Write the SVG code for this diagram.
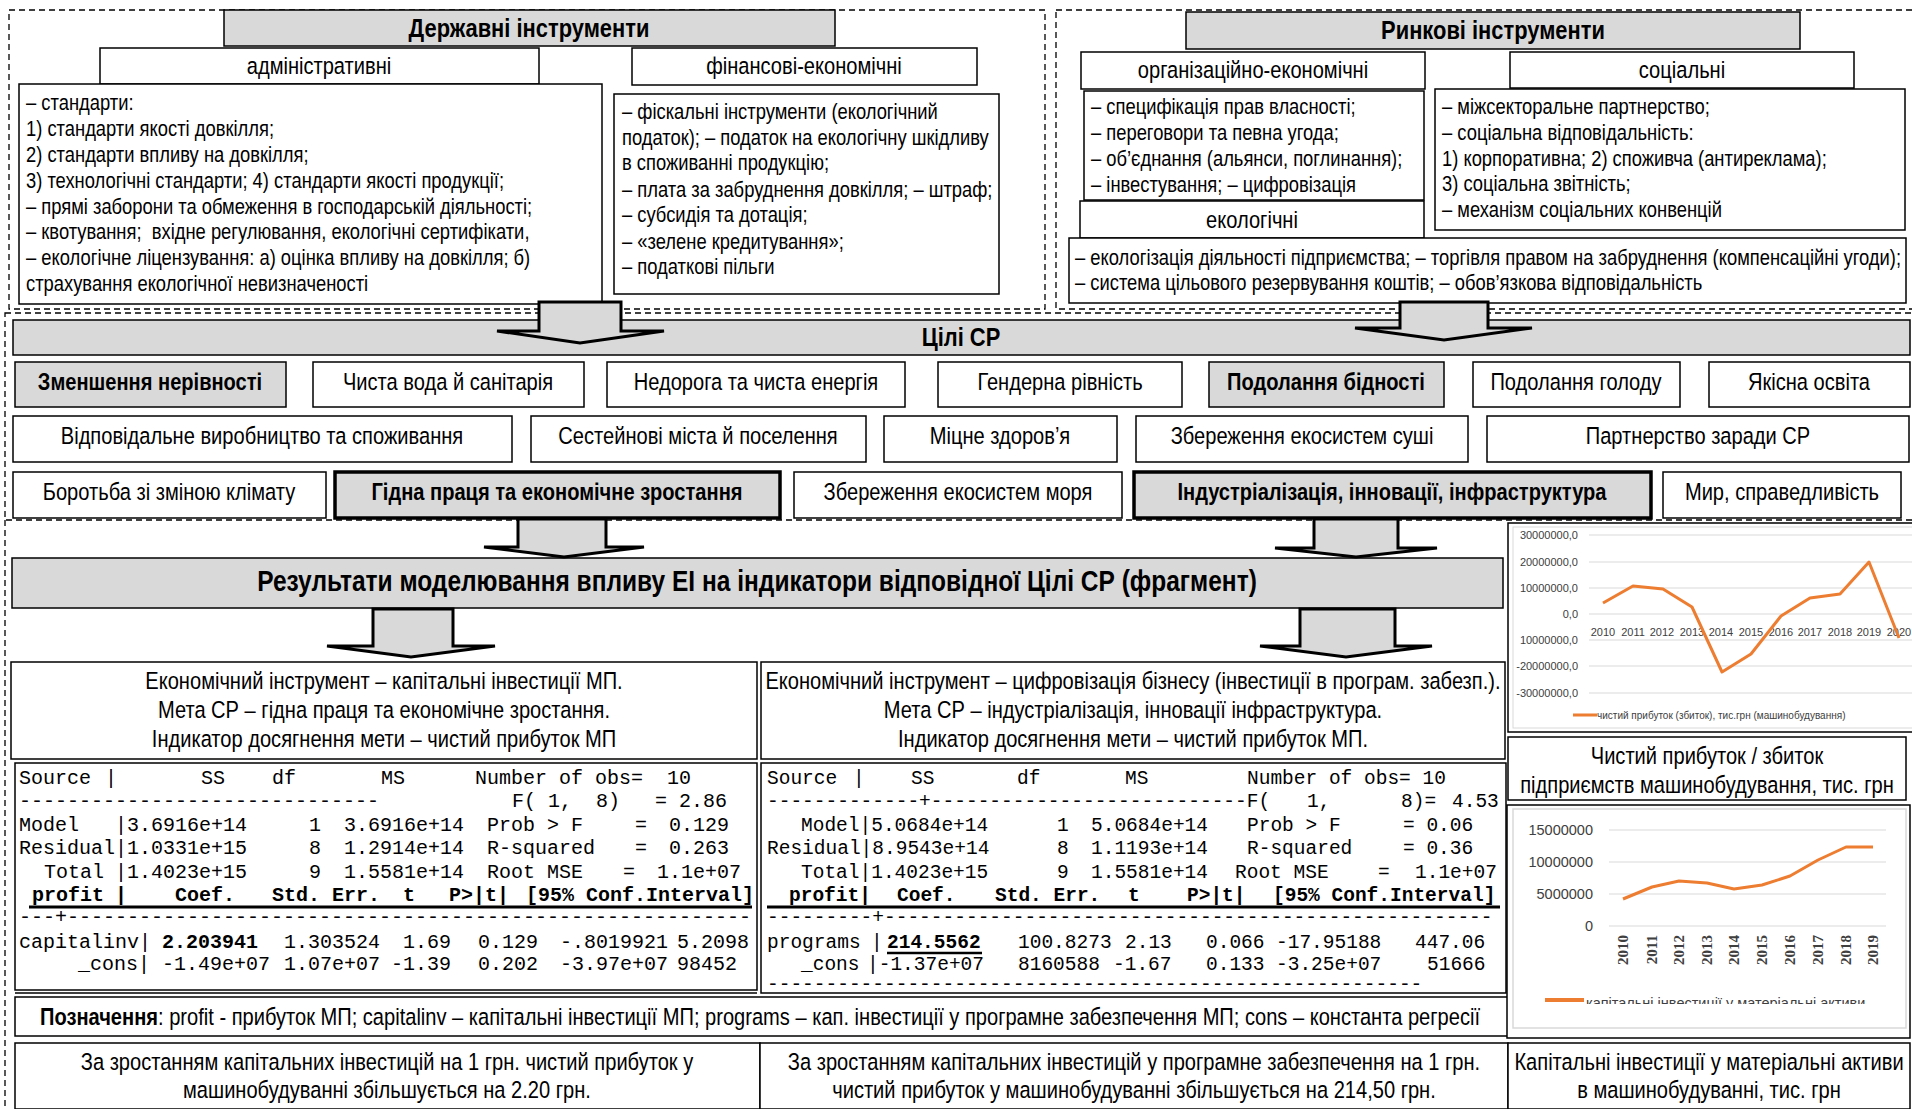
<svg xmlns="http://www.w3.org/2000/svg" width="1912" height="1109" viewBox="0 0 1912 1109">
<defs>
<style>
.box{fill:#fff;stroke:#000;stroke-width:1.5}
.gbox{fill:#d9d9d9;stroke:#000;stroke-width:1.5}
.tbox{fill:#d9d9d9;stroke:#000;stroke-width:3.5}
.dash{fill:none;stroke:#000;stroke-width:1.3;stroke-dasharray:6 4}
.t{font-family:"Liberation Sans",Arial,sans-serif;fill:#000}
.b21{font-size:22.4px}
.hd{font-size:26.7px;font-weight:bold;text-anchor:middle}
.sub{font-size:24.5px;text-anchor:middle}
.goal{font-size:24.5px;text-anchor:middle}
.goalb{font-size:24.5px;font-weight:bold;text-anchor:middle}
.c23{font-size:24.5px;text-anchor:middle}
.mono{font-family:"Liberation Mono","Courier New",monospace;font-size:20px;fill:#000}
.monor{font-family:"Liberation Mono","Courier New",monospace;font-size:19.5px;fill:#000}
.bold{font-weight:bold}
.arrow{fill:#d9d9d9;stroke:#000;stroke-width:3;stroke-linejoin:miter}
.grid{stroke:#d9d9d9;stroke-width:1.2}
.ax{font-family:"Liberation Sans",Arial,sans-serif;fill:#404040}
.ser{fill:none;stroke:#ed7d31;stroke-width:3;stroke-linejoin:round}
</style>
<clipPath id="legclip"><rect x="1500" y="980" width="412" height="24"/></clipPath>
</defs>
<rect x="0" y="0" width="1912" height="1109" fill="#fff"/>

<g id="frames">
<rect class="dash" x="9" y="10" width="1036" height="299"/>
<rect class="dash" x="1056" y="10" width="880" height="299"/>
<rect class="dash" x="5" y="313" width="1930" height="207"/>
<line class="dash" x1="5" y1="520" x2="5" y2="1109"/>
</g>

<g id="state-instruments">
<rect class="gbox" x="224" y="10" width="611" height="36"/>
<text class="t hd" transform="translate(529 37) scale(.82 1)">Державні інструменти</text>
</g>
<g id="admin-head">
<rect class="box" x="100" y="48" width="439" height="36"/>
<text class="t sub" transform="translate(319 74) scale(.82 1)">адміністративні</text>
</g>
<g id="admin-body">
<rect class="box" x="19" y="84" width="583" height="220"/>
<text class="t b21" transform="translate(26 110) scale(.82 1)">– стандарти:</text>
<text class="t b21" transform="translate(26 136) scale(.82 1)">1) стандарти якості довкілля;</text>
<text class="t b21" transform="translate(26 162) scale(.82 1)">2) стандарти впливу на довкілля;</text>
<text class="t b21" transform="translate(26 188) scale(.82 1)">3) технологічні стандарти; 4) стандарти якості продукції;</text>
<text class="t b21" transform="translate(26 214) scale(.82 1)">– прямі заборони та обмеження в господарській діяльності;</text>
<text class="t b21" transform="translate(26 239) scale(.82 1)" xml:space="preserve">– квотування;  вхідне регулювання, екологічні сертифікати,</text>
<text class="t b21" transform="translate(26 265) scale(.82 1)">– екологічне ліцензування: а) оцінка впливу на довкілля; б)</text>
<text class="t b21" transform="translate(26 291) scale(.82 1)">страхування екологічної невизначеності</text>
</g>
<g id="fin-head">
<rect class="box" x="632" y="48" width="345" height="37"/>
<text class="t sub" font-size="25.2" transform="translate(804 74) scale(.82 1)">фінансові-економічні</text>
</g>
<g id="fin-body">
<rect class="box" x="614" y="94" width="385" height="200"/>
<text class="t b21" transform="translate(622 119) scale(.82 1)">– фіскальні інструменти (екологічний</text>
<text class="t b21" transform="translate(622 145) scale(.82 1)">податок); – податок на екологічну шкідливу</text>
<text class="t b21" transform="translate(622 170) scale(.82 1)">в споживанні продукцію;</text>
<text class="t b21" transform="translate(622 197) scale(.82 1)">– плата за забруднення довкілля; – штраф;</text>
<text class="t b21" transform="translate(622 222) scale(.82 1)">– субсидія та дотація;</text>
<text class="t b21" transform="translate(622 249) scale(.82 1)">– «зелене кредитування»;</text>
<text class="t b21" transform="translate(622 274) scale(.82 1)">– податкові пільги</text>
</g>

<g id="market-instruments">
<rect class="gbox" x="1186" y="12" width="614" height="37"/>
<text class="t hd" transform="translate(1493 39) scale(.82 1)">Ринкові інструменти</text>
</g>
<g id="org-head">
<rect class="box" x="1081" y="52" width="344" height="37"/>
<text class="t sub" transform="translate(1253 78) scale(.82 1)">організаційно-економічні</text>
</g>
<g id="org-body">
<rect class="box" x="1084" y="91" width="340" height="109"/>
<text class="t b21" transform="translate(1091 114) scale(.82 1)">– специфікація прав власності;</text>
<text class="t b21" transform="translate(1091 140) scale(.82 1)">– переговори та певна угода;</text>
<text class="t b21" transform="translate(1091 166) scale(.82 1)">– об’єднання (альянси, поглинання);</text>
<text class="t b21" transform="translate(1091 192) scale(.82 1)">– інвестування; – цифровізація</text>
</g>
<g id="soc-head">
<rect class="box" x="1510" y="52" width="344" height="36"/>
<text class="t sub" transform="translate(1682 78) scale(.82 1)">соціальні</text>
</g>
<g id="soc-body">
<rect class="box" x="1435" y="89" width="470" height="141"/>
<text class="t b21" transform="translate(1442 114) scale(.82 1)">– міжсекторальне партнерство;</text>
<text class="t b21" transform="translate(1442 140) scale(.82 1)">– соціальна відповідальність:</text>
<text class="t b21" transform="translate(1442 166) scale(.82 1)">1) корпоративна; 2) споживча (антиреклама);</text>
<text class="t b21" transform="translate(1442 191) scale(.82 1)">3) соціальна звітність;</text>
<text class="t b21" transform="translate(1442 217) scale(.82 1)">– механізм соціальних конвенцій</text>
</g>
<g id="eco-head">
<rect class="box" x="1080" y="201" width="344" height="37"/>
<text class="t sub" transform="translate(1252 228) scale(.82 1)">екологічні</text>
</g>
<g id="eco-body">
<rect class="box" x="1069" y="238" width="837" height="65"/>
<text class="t b21" transform="translate(1075 265) scale(.82 1)">– екологізація діяльності підприємства; – торгівля правом на забруднення (компенсаційні угоди);</text>
<text class="t b21" transform="translate(1075 290) scale(.82 1)">– система цільового резервування коштів; – обов’язкова відповідальність</text>
</g>

<g id="sdg-bar">
<rect class="gbox" x="13" y="320" width="1897" height="35"/>
<text class="t hd" transform="translate(961 346) scale(.82 1)">Цілі СР</text>
</g>

<g id="g-inequality"><rect class="gbox" x="15" y="362" width="271" height="45"/><text class="t goalb" transform="translate(150 390) scale(.82 1)">Зменшення нерівності</text></g>
<g id="g-water"><rect class="box" x="313" y="362" width="271" height="45"/><text class="t goal" transform="translate(448 390) scale(.82 1)">Чиста вода й санітарія</text></g>
<g id="g-energy"><rect class="box" x="607" y="362" width="298" height="45"/><text class="t goal" transform="translate(756 390) scale(.82 1)">Недорога та чиста енергія</text></g>
<g id="g-gender"><rect class="box" x="938" y="362" width="244" height="45"/><text class="t goal" transform="translate(1060 390) scale(.82 1)">Гендерна рівність</text></g>
<g id="g-poverty"><rect class="gbox" x="1209" y="362" width="235" height="45"/><text class="t goalb" transform="translate(1326 390) scale(.82 1)">Подолання бідності</text></g>
<g id="g-hunger"><rect class="box" x="1473" y="362" width="207" height="45"/><text class="t goal" transform="translate(1576 390) scale(.82 1)">Подолання голоду</text></g>
<g id="g-education"><rect class="box" x="1709" y="362" width="201" height="45"/><text class="t goal" transform="translate(1809 390) scale(.82 1)">Якісна освіта</text></g>

<g id="g-consumption"><rect class="box" x="13" y="416" width="499" height="46"/><text class="t goal" transform="translate(262 444) scale(.82 1)">Відповідальне виробництво та споживання</text></g>
<g id="g-cities"><rect class="box" x="531" y="416" width="335" height="46"/><text class="t goal" transform="translate(698 444) scale(.82 1)">Сестейнові міста й поселення</text></g>
<g id="g-health"><rect class="box" x="884" y="416" width="233" height="46"/><text class="t goal" transform="translate(1000 444) scale(.82 1)">Міцне здоров’я</text></g>
<g id="g-land"><rect class="box" x="1136" y="416" width="332" height="46"/><text class="t goal" transform="translate(1302 444) scale(.82 1)">Збереження екосистем суші</text></g>
<g id="g-partnership"><rect class="box" x="1487" y="416" width="422" height="46"/><text class="t goal" transform="translate(1698 444) scale(.82 1)">Партнерство заради СР</text></g>

<g id="g-climate"><rect class="box" x="13" y="472" width="313" height="46"/><text class="t goal" transform="translate(169 500) scale(.82 1)">Боротьба зі зміною клімату</text></g>
<g id="g-work"><rect class="tbox" x="335" y="472" width="445" height="46"/><text class="t goalb" font-size="23.5" transform="translate(557 500) scale(.82 1)">Гідна праця та економічне зростання</text></g>
<g id="g-sea"><rect class="box" x="794" y="472" width="328" height="46"/><text class="t goal" transform="translate(958 500) scale(.82 1)">Збереження екосистем моря</text></g>
<g id="g-industry"><rect class="tbox" x="1134" y="472" width="517" height="46"/><text class="t goalb" transform="translate(1392 500) scale(.82 1)">Індустріалізація, інновації, інфраструктура</text></g>
<g id="g-peace"><rect class="box" x="1663" y="472" width="238" height="46"/><text class="t goal" transform="translate(1782 500) scale(.82 1)">Мир, справедливість</text></g>

<g id="results-bar">
<rect class="gbox" x="12" y="558" width="1491" height="50"/>
<text class="t" font-size="29.9" font-weight="bold" text-anchor="middle" transform="translate(757 591) scale(.82 1)">Результати моделювання впливу ЕІ на індикатори відповідної Цілі СР (фрагмент)</text>
</g>

<g id="case-left">
<rect class="box" x="11" y="662" width="746" height="97"/>
<text class="t c23" transform="translate(384 689) scale(.82 1)">Економічний інструмент – капітальні інвестиції МП.</text>
<text class="t c23" transform="translate(384 718) scale(.82 1)">Мета СР – гідна праця та економічне зростання.</text>
<text class="t c23" transform="translate(384 747) scale(.82 1)">Індикатор досягнення мети – чистий прибуток МП</text>
</g>
<g id="case-right">
<rect class="box" x="761" y="662" width="744" height="97"/>
<text class="t c23" transform="translate(1133 689) scale(.82 1)">Економічний інструмент – цифровізація бізнесу (інвестиції в програм. забезп.).</text>
<text class="t c23" transform="translate(1133 718) scale(.82 1)">Мета СР – індустріалізація, інновації інфраструктура.</text>
<text class="t c23" transform="translate(1133 747) scale(.82 1)">Індикатор досягнення мети – чистий прибуток МП.</text>
</g>

<g id="table-left">
<rect class="box" x="15" y="763" width="742" height="227"/>
<line x1="15" y1="993" x2="757" y2="993" stroke="#000" stroke-width="1.5"/>
<text class="mono" y="784"><tspan x="19">Source</tspan><tspan x="105">|</tspan><tspan x="201">SS</tspan><tspan x="272">df</tspan><tspan x="381">MS</tspan><tspan x="475" xml:space="preserve">Number of obs=  10</tspan></text>
<text class="mono" y="807"><tspan x="19">------------------------------</tspan><tspan x="512" xml:space="preserve">F( 1,  8)</tspan><tspan x="655">= 2.86</tspan></text>
<text class="mono" y="831"><tspan x="19">Model</tspan><tspan x="115">|3.6916e+14</tspan><tspan x="309">1</tspan><tspan x="344">3.6916e+14</tspan><tspan x="487">Prob &gt; F</tspan><tspan x="635">=</tspan><tspan x="669">0.129</tspan></text>
<text class="mono" y="854"><tspan x="19">Residual|1.0331e+15</tspan><tspan x="309">8</tspan><tspan x="344">1.2914e+14</tspan><tspan x="487">R-squared</tspan><tspan x="635">=</tspan><tspan x="669">0.263</tspan></text>
<text class="mono" y="878"><tspan x="44">Total</tspan><tspan x="115">|1.4023e+15</tspan><tspan x="309">9</tspan><tspan x="344">1.5581e+14</tspan><tspan x="487">Root MSE</tspan><tspan x="623">=</tspan><tspan x="657">1.1e+07</tspan></text>
<text class="mono bold" y="901"><tspan x="32">profit</tspan><tspan x="115">|</tspan><tspan x="175">Coef.</tspan><tspan x="272">Std. Err.</tspan><tspan x="403">t</tspan><tspan x="449">P&gt;|t|</tspan><tspan x="526">[95% Conf.Interval]</tspan></text>
<line x1="29" y1="907" x2="752" y2="907" stroke="#000" stroke-width="3"/>
<text class="mono" x="19" y="923">---+---------------------------------------------------------</text>
<text class="mono" y="948"><tspan x="19">capitalinv|</tspan><tspan x="162" font-weight="bold">2.203941</tspan><tspan x="284">1.303524</tspan><tspan x="403">1.69</tspan><tspan x="478">0.129</tspan><tspan x="560">-.8019921</tspan><tspan x="677">5.2098</tspan></text>
<text class="mono" y="970"><tspan x="78">_cons|</tspan><tspan x="162">-1.49e+07</tspan><tspan x="284">1.07e+07</tspan><tspan x="391">-1.39</tspan><tspan x="478">0.202</tspan><tspan x="560">-3.97e+07</tspan><tspan x="677">98452</tspan></text>
</g>

<g id="table-right">
<rect class="box" x="761" y="763" width="745" height="230"/>
<text class="monor" y="784"><tspan x="767">Source</tspan><tspan x="853">|</tspan><tspan x="911">SS</tspan><tspan x="1017">df</tspan><tspan x="1125">MS</tspan><tspan x="1247">Number of obs= 10</tspan></text>
<text class="monor" y="807"><tspan x="767">-------------+---------------------------F(</tspan><tspan x="1307">1,</tspan><tspan x="1401">8)=</tspan><tspan x="1452">4.53</tspan></text>
<text class="monor" y="831"><tspan x="801">Model|5.0684e+14</tspan><tspan x="1057">1</tspan><tspan x="1091">5.0684e+14</tspan><tspan x="1247">Prob &gt; F</tspan><tspan x="1403">= 0.06</tspan></text>
<text class="monor" y="854"><tspan x="767">Residual|8.9543e+14</tspan><tspan x="1057">8</tspan><tspan x="1091">1.1193e+14</tspan><tspan x="1247">R-squared</tspan><tspan x="1403">= 0.36</tspan></text>
<text class="monor" y="878"><tspan x="801">Total|1.4023e+15</tspan><tspan x="1057">9</tspan><tspan x="1091">1.5581e+14</tspan><tspan x="1235">Root MSE</tspan><tspan x="1378">=</tspan><tspan x="1415">1.1e+07</tspan></text>
<text class="monor bold" y="901"><tspan x="789">profit|</tspan><tspan x="897">Coef.</tspan><tspan x="995">Std. Err.</tspan><tspan x="1128">t</tspan><tspan x="1187">P&gt;|t|</tspan><tspan x="1273">[95% Conf.Interval]</tspan></text>
<line x1="767" y1="907" x2="1500" y2="907" stroke="#000" stroke-width="3"/>
<text class="monor" x="767" y="923">---------+----------------------------------------------------</text>
<text class="monor" y="948"><tspan x="767">programs</tspan><tspan x="871">|</tspan><tspan x="887" font-weight="bold">214.5562</tspan><tspan x="1018">100.8273</tspan><tspan x="1125">2.13</tspan><tspan x="1206">0.066</tspan><tspan x="1276">-17.95188</tspan><tspan x="1415">447.06</tspan></text>
<line x1="887" y1="953" x2="982" y2="953" stroke="#000" stroke-width="2.5"/>
<text class="monor" y="970"><tspan x="801">_cons</tspan><tspan x="867">|-1.37e+07</tspan><tspan x="1018">8160588</tspan><tspan x="1113">-1.67</tspan><tspan x="1206">0.133</tspan><tspan x="1276">-3.25e+07</tspan><tspan x="1427">51666</tspan></text>
<text class="monor" x="767" y="990">--------------------------------------------------------</text>
</g>

<g id="legend-note">
<rect class="box" x="15" y="997" width="1493" height="39"/>
<text class="t" font-size="24.5" transform="translate(40 1025) scale(.82 1)"><tspan font-weight="bold">Позначення</tspan>: profit - прибуток МП; capitalinv – капітальні інвестиції МП; programs – кап. інвестиції у програмне забезпечення МП; cons – константа регресії</text>
</g>

<g id="conclusion-left">
<rect class="box" x="15" y="1043" width="745" height="66"/>
<text class="t c23" transform="translate(387 1070) scale(.82 1)">За зростанням капітальних інвестицій на 1 грн. чистий прибуток у</text>
<text class="t c23" transform="translate(387 1098) scale(.82 1)">машинобудуванні збільшується на 2.20 грн.</text>
</g>
<g id="conclusion-right">
<rect class="box" x="760" y="1043" width="748" height="66"/>
<text class="t c23" transform="translate(1134 1070) scale(.82 1)">За зростанням капітальних інвестицій у програмне забезпечення на 1 грн.</text>
<text class="t c23" transform="translate(1134 1098) scale(.82 1)">чистий прибуток у машинобудуванні збільшується на 214,50 грн.</text>
</g>

<g id="chart-profit">
<rect x="1508" y="523" width="410" height="209" fill="#fff" stroke="#000" stroke-width="1.5"/>
<rect x="1513" y="527" width="400" height="201" fill="none" stroke="#d9d9d9" stroke-width="1"/>
<line class="grid" x1="1589" y1="535" x2="1912" y2="535"/>
<line class="grid" x1="1589" y1="562" x2="1912" y2="562"/>
<line class="grid" x1="1589" y1="588" x2="1912" y2="588"/>
<line class="grid" x1="1589" y1="614" x2="1912" y2="614"/>
<line class="grid" x1="1589" y1="640" x2="1912" y2="640"/>
<line class="grid" x1="1589" y1="666" x2="1912" y2="666"/>
<line class="grid" x1="1589" y1="693" x2="1912" y2="693"/>
<g class="ax" font-size="11" text-anchor="end">
<text x="1578" y="539">30000000,0</text>
<text x="1578" y="566">20000000,0</text>
<text x="1578" y="592">10000000,0</text>
<text x="1578" y="618">0,0</text>
<text x="1578" y="644">10000000,0</text>
<text x="1578" y="670">-20000000,0</text>
<text x="1578" y="697">-30000000,0</text>
</g>
<g class="ax" font-size="11" text-anchor="middle">
<text x="1603" y="636">2010</text><text x="1633" y="636">2011</text><text x="1662" y="636">2012</text><text x="1692" y="636">2013</text><text x="1721" y="636">2014</text><text x="1751" y="636">2015</text><text x="1781" y="636">2016</text><text x="1810" y="636">2017</text><text x="1840" y="636">2018</text><text x="1869" y="636">2019</text><text x="1899" y="636">2020</text>
</g>
<polyline class="ser" points="1603,603 1633,586 1663,589 1692,607 1722,672 1751,654 1781,616 1810,598 1840,594 1869,562 1899,638"/>
<line x1="1573" y1="715" x2="1597" y2="715" stroke="#ed7d31" stroke-width="3"/>
<text class="ax" x="1597" y="719" font-size="10">чистий прибуток (збиток), тис.грн (машинобудування)</text>
</g>
<g id="chart-profit-title">
<rect class="box" x="1508" y="737" width="398" height="63"/>
<text class="t sub" transform="translate(1707 764) scale(.82 1)">Чистий прибуток / збиток</text>
<text class="t sub" transform="translate(1707 793) scale(.82 1)">підприємств машинобудування, тис. грн</text>
</g>

<g id="chart-capinv">
<rect x="1507" y="805" width="403" height="233" fill="#fff" stroke="#000" stroke-width="1.5"/>
<rect x="1513" y="809" width="393" height="219" fill="none" stroke="#d9d9d9" stroke-width="1.5"/>
<line class="grid" x1="1609" y1="830" x2="1886" y2="830"/>
<line class="grid" x1="1609" y1="862" x2="1886" y2="862"/>
<line class="grid" x1="1609" y1="894" x2="1886" y2="894"/>
<line class="grid" x1="1609" y1="926" x2="1886" y2="926"/>
<g class="ax" font-size="14.5" text-anchor="end">
<text x="1593" y="835">15000000</text>
<text x="1593" y="867">10000000</text>
<text x="1593" y="899">5000000</text>
<text x="1593" y="931">0</text>
</g>
<g font-family="Liberation Serif,serif" font-size="15" font-weight="bold" fill="#404040" text-anchor="end">
<text transform="translate(1628,935) rotate(-90)">2010</text>
<text transform="translate(1657,935) rotate(-90)">2011</text>
<text transform="translate(1684,935) rotate(-90)">2012</text>
<text transform="translate(1712,935) rotate(-90)">2013</text>
<text transform="translate(1739,935) rotate(-90)">2014</text>
<text transform="translate(1767,935) rotate(-90)">2015</text>
<text transform="translate(1795,935) rotate(-90)">2016</text>
<text transform="translate(1823,935) rotate(-90)">2017</text>
<text transform="translate(1851,935) rotate(-90)">2018</text>
<text transform="translate(1878,935) rotate(-90)">2019</text>
</g>
<polyline class="ser" stroke-width="3.5" points="1623,899 1652,887 1679,881 1707,883 1734,889 1762,885 1790,876 1818,860 1846,847 1873,847"/>
<line x1="1545" y1="1000" x2="1584" y2="1000" stroke="#ed7d31" stroke-width="4"/>
<text class="ax" x="1586" y="1008" font-size="14.5" clip-path="url(#legclip)">капітальні інвестиції у матеріальні активи</text>
</g>
<g id="chart-capinv-title">
<rect class="box" x="1508" y="1043" width="402" height="66"/>
<text class="t sub" transform="translate(1709 1070) scale(.82 1)">Капітальні інвестиції у матеріальні активи</text>
<text class="t sub" transform="translate(1709 1098) scale(.82 1)">в машинобудуванні, тис. грн</text>
</g>

<g id="connectors">
<polygon class="arrow" points="539,302 621,302 621,331 664,331 580,343 497,331 539,331"/>
<polygon class="arrow" points="1400,302 1488,302 1488,328 1532,328 1444,340 1355,328 1400,328"/>
<polygon class="arrow" points="518,519 606,519 606,547 644,547 564,557 484,547 518,547"/>
<polygon class="arrow" points="1314,519 1398,519 1398,548 1437,548 1356,557 1275,548 1314,548"/>
<polygon class="arrow" points="373,609 453,609 453,646 495,646 411,657 327,646 373,646"/>
<polygon class="arrow" points="1300,609 1395,609 1395,646 1432,646 1346,657 1260,646 1300,646"/>
</g>
</svg>
